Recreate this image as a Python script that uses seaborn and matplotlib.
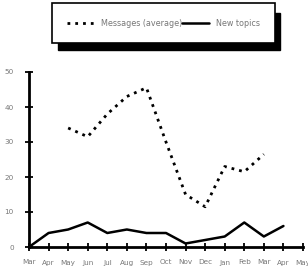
import numpy as np
import pandas as pd
import seaborn as sns
import matplotlib.pyplot as plt
from matplotlib.patches import Rectangle

# data
months = ['Mar', 'Apr', 'May', 'Jun', 'Jul', 'Aug', 'Sep', 'Oct', 'Nov', 'Dec',
          'Jan', 'Feb', 'Mar', 'Apr', 'May']
messages = [np.nan, np.nan, 34, 31.5, 38, 43, 45.5, 30, 15, 11.5, 23, 21.5, 26.5, np.nan, np.nan]
new_topics = [0, 4, 5, 7, 4, 5, 4, 4, 1, 2, 3, 7, 3, 6, np.nan]

df = pd.DataFrame({'pos': range(len(months)), 'Messages (average)': messages,
                   'New topics': new_topics})

sns.set_style('white')
plt.rcParams['font.family'] = ['DejaVu Sans']

fig = plt.figure(figsize=(3.08, 2.7), dpi=100)
ax = fig.add_axes([29/308, 23/270, 274/308, 175/270])

d1 = df.dropna(subset=['Messages (average)'])
d2 = df.dropna(subset=['New topics'])
sns.lineplot(data=d1, x='pos', y='Messages (average)', ax=ax, color='black',
             lw=2, linestyle=(0, (1, 1.8)), label='Messages (average)')
sns.lineplot(data=d2, x='pos', y='New topics', ax=ax, color='black',
             lw=1.8, label='New topics')

ax.set_xlim(0, 14)
ax.set_ylim(0, 50)
ax.set_xticks(range(len(months)))
ax.set_xticklabels(months)
ax.set_yticks([0, 10, 20, 30, 40, 50])
ax.set_xlabel('')
ax.set_ylabel('')
sns.despine(ax=ax)
for s in ['left', 'bottom']:
    ax.spines[s].set_linewidth(2)
    ax.spines[s].set_color('black')
ax.tick_params(axis='both', bottom=True, left=True, direction='inout',
               length=6, width=1.3, colors='black', labelcolor='#777777',
               labelsize=5.2)
ax.tick_params(axis='x', pad=6)
ax.tick_params(axis='y', pad=8)
for l in ax.lines:
    l.set_clip_on(False)

h, lab = ax.get_legend_handles_labels()
ax.get_legend().remove()

# legend with hard drop shadow
fig.patches.append(Rectangle((58/308, 220/270), 222/308, 37/270,
                             transform=fig.transFigure, color='black', zorder=1))
leg = fig.legend(h, lab, loc='lower left',
                 bbox_to_anchor=(52/308, 227/270, 223/308, 37/270),
                 mode='expand', ncol=2, frameon=True, fancybox=False,
                 edgecolor='black', framealpha=1, fontsize=5.8,
                 labelcolor='#777777', handlelength=3.4, handletextpad=0.8,
                 borderaxespad=0, borderpad=1.9, columnspacing=1.5)
leg.get_frame().set_linewidth(1.2)
leg.set_zorder(2)

fig.savefig('out.png', dpi=100)
